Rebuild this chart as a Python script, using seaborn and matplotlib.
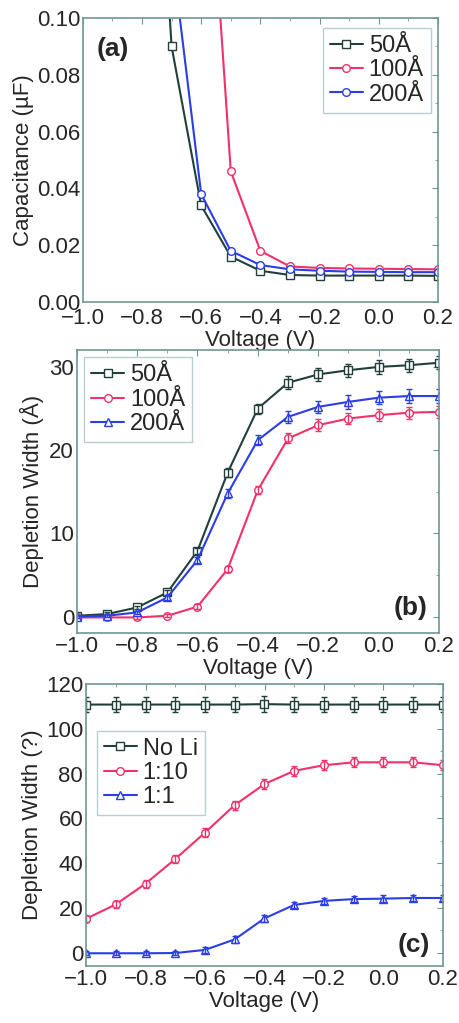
import numpy as np
import pandas as pd
import matplotlib
matplotlib.use("Agg")
import matplotlib.pyplot as plt
import seaborn as sns
from matplotlib.ticker import MultipleLocator

# -----------------------------
# DATA
# -----------------------------
voltage = [-1.0, -0.9, -0.8, -0.7, -0.6, -0.5, -0.4, -0.3, -0.2, -0.1, 0.0, 0.1, 0.2]

# panel (a): capacitance (uF); values above 0.1 run off the top
cap_v_50 = [-0.8, -0.7, -0.6, -0.5, -0.4, -0.3, -0.2, -0.1, 0.0, 0.1, 0.2]
cap_50 = [0.26, 0.090, 0.034, 0.016, 0.011, 0.0095, 0.0093, 0.0093, 0.0093, 0.0093, 0.0092]
cap_v_100 = [-0.6, -0.5, -0.4, -0.3, -0.2, -0.1, 0.0, 0.1, 0.2]
cap_100 = [0.20, 0.046, 0.018, 0.0125, 0.012, 0.0118, 0.0117, 0.0116, 0.0115]
cap_v_200 = [-0.7, -0.6, -0.5, -0.4, -0.3, -0.2, -0.1, 0.0, 0.1, 0.2]
cap_200 = [0.124, 0.038, 0.018, 0.013, 0.0115, 0.011, 0.0107, 0.0106, 0.0105, 0.0105]

# panel (b): depletion width (A)
dw_50 = [0.1, 0.3, 1.1, 2.9, 7.9, 17.3, 25.0, 28.1, 29.1, 29.6, 30.0, 30.2, 30.5]
dw_50_err = [0.2, 0.2, 0.2, 0.3, 0.4, 0.5, 0.6, 0.8, 0.8, 0.8, 0.8, 0.8, 0.8]
dw_100 = [-0.1, -0.1, -0.1, 0.1, 1.2, 5.7, 15.2, 21.4, 23.0, 23.8, 24.2, 24.5, 24.6]
dw_100_err = [0.2, 0.2, 0.2, 0.2, 0.3, 0.4, 0.5, 0.6, 0.7, 0.7, 0.7, 0.7, 0.7]
dw_200 = [0.0, 0.1, 0.5, 2.3, 6.8, 14.8, 21.2, 24.0, 25.2, 25.8, 26.3, 26.5, 26.5]
dw_200_err = [0.2, 0.2, 0.2, 0.3, 0.4, 0.5, 0.6, 0.7, 0.7, 0.8, 0.8, 0.8, 0.8]

# panel (c): depletion width vs Li ratio
dw_noli = [110.8, 110.8, 110.8, 110.8, 110.8, 110.8, 111.0, 110.8, 110.8, 110.8, 110.8, 110.8, 110.8]
dw_noli_err = [3.5] * 13
dw_110 = [15.1, 21.5, 30.8, 41.8, 53.6, 65.9, 75.3, 81.2, 83.7, 85.0, 85.0, 85.0, 83.7]
dw_110_err = [1.5, 1.5, 1.8, 2.0, 2.0, 2.0, 2.2, 2.2, 2.2, 2.2, 2.2, 2.2, 2.2]
dw_11 = [-0.3, -0.3, -0.3, -0.2, 1.2, 5.9, 15.3, 21.3, 23.1, 23.9, 24.1, 24.4, 24.4]
dw_11_err = [1.0, 1.0, 1.0, 1.0, 1.2, 1.5, 1.5, 1.5, 1.5, 1.5, 1.5, 1.5, 1.5]

labels_ab = ["50Å", "100Å", "200Å"]
labels_c = ["No Li", "1:10", "1:1"]

C_DARK = "#223f3c"
C_PINK = "#f2306a"
C_BLUE = "#2a3de6"
SPINE = "#6f9696"

sns.set_style("white")
plt.rcParams["font.family"] = ["Liberation Sans", "DejaVu Sans"]
plt.rcParams["font.size"] = 16


def draw(ax, x, y, color, marker, label, err=None):
    df = pd.DataFrame({"x": x, "y": y})
    sns.lineplot(data=df, x="x", y="y", ax=ax, color=color, marker=marker,
                 markersize=5.5, mfc="white", mec=color, mew=1.0, lw=1.5,
                 label=label, sort=False)
    if err is not None:
        ax.errorbar(x, y, yerr=err, fmt="none", ecolor=color, elinewidth=1.0,
                    capsize=2.5, capthick=1.0)


def style_axes(ax, ylim, ymaj, ymin):
    ax.set_xlim(-1.0, 0.2)
    ax.set_ylim(*ylim)
    ax.xaxis.set_major_locator(MultipleLocator(0.2))
    ax.xaxis.set_minor_locator(MultipleLocator(0.1))
    ax.yaxis.set_major_locator(MultipleLocator(ymaj))
    ax.yaxis.set_minor_locator(MultipleLocator(ymin))
    ax.tick_params(which="both", direction="in", top=True, right=True,
                   color=SPINE, labelsize=16, pad=2)
    ax.tick_params(which="major", length=4)
    ax.tick_params(which="minor", length=2)
    for s in ax.spines.values():
        s.set_color(SPINE)
        s.set_linewidth(1.2)
    ax.set_xlabel("Voltage (V)", fontsize=16, labelpad=1)


def legend(ax, loc, anchor):
    leg = ax.legend(loc=loc, bbox_to_anchor=anchor, fontsize=17, frameon=True,
                    fancybox=False, handlelength=1.4, handletextpad=0.25,
                    labelspacing=0.1, borderpad=0.3, borderaxespad=0.3)
    leg.get_frame().set_edgecolor("#a8c4c4")
    leg.get_frame().set_linewidth(1.0)


fig = plt.figure(figsize=(4.6, 10.23), dpi=100)

# ---------------- (a) ----------------
ax1 = fig.add_axes([0.180, 0.7048, 0.772, 0.2776])
draw(ax1, cap_v_50, cap_50, C_DARK, "s", labels_ab[0])
draw(ax1, cap_v_100, cap_100, C_PINK, "o", labels_ab[1])
draw(ax1, cap_v_200, cap_200, C_BLUE, "o", labels_ab[2])
style_axes(ax1, (0.0, 0.1), 0.02, 0.01)
ax1.yaxis.set_major_formatter(matplotlib.ticker.FormatStrFormatter("%.2f"))
ax1.tick_params(axis="x", pad=4)
ax1.set_ylabel("Capacitance (µF)", fontsize=16, labelpad=2)
ax1.text(0.04, 0.89, "(a)", transform=ax1.transAxes, fontsize=19,
         fontweight="bold", va="center", ha="left")
legend(ax1, "upper right", (1.0, 0.99))

# ---------------- (b) ----------------
ax2 = fig.add_axes([0.167, 0.381, 0.787, 0.2766])
draw(ax2, voltage, dw_50, C_DARK, "s", labels_ab[0], dw_50_err)
draw(ax2, voltage, dw_100, C_PINK, "o", labels_ab[1], dw_100_err)
draw(ax2, voltage, dw_200, C_BLUE, "^", labels_ab[2], dw_200_err)
style_axes(ax2, (-2, 32), 10, 5)
ax2.set_ylabel("Depletion Width (Å)", fontsize=16, labelpad=4)
ax2.text(0.97, 0.088, "(b)", transform=ax2.transAxes, fontsize=19,
         fontweight="bold", va="center", ha="right")
legend(ax2, "upper left", (0.0, 1.0))

# ---------------- (c) ----------------
ax3 = fig.add_axes([0.187, 0.0557, 0.776, 0.2757])
draw(ax3, voltage, dw_noli, C_DARK, "s", labels_c[0], dw_noli_err)
draw(ax3, voltage, dw_110, C_PINK, "o", labels_c[1], dw_110_err)
draw(ax3, voltage, dw_11, C_BLUE, "^", labels_c[2], dw_11_err)
style_axes(ax3, (-6, 120), 20, 10)
ax3.set_ylabel("Depletion Width (?)", fontsize=16, labelpad=2)
ax3.text(0.963, 0.074, "(c)", transform=ax3.transAxes, fontsize=19,
         fontweight="bold", va="center", ha="right")
legend(ax3, "upper left", (0.01, 0.86))

fig.savefig("out.png", dpi=100)
